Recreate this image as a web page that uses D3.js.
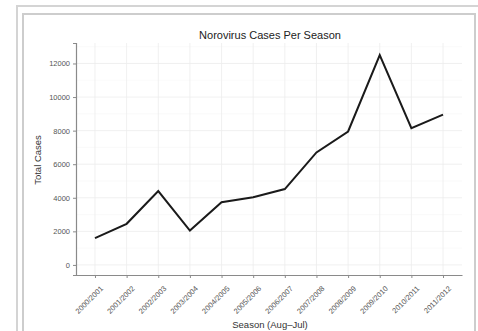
<!DOCTYPE html>
<html>
<head>
<meta charset="utf-8">
<script src="https://cdn.jsdelivr.net/npm/d3@7/dist/d3.min.js"></script>
<style>
html,body{margin:0;padding:0;background:#fff;}
svg{display:block;font-family:"Liberation Sans",Arial,sans-serif;}
</style>
</head>
<body>
<svg id="chart" width="478" height="331"></svg>
<script>
const seasons = ["2000/2001","2001/2002","2002/2003","2003/2004","2004/2005","2005/2006","2006/2007","2007/2008","2008/2009","2009/2010","2010/2011","2011/2012"];
const cases = [1600, 2450, 4400, 2050, 3730, 4030, 4520, 6700, 7950, 12500, 8150, 8950];
const yTicks = [0, 2000, 4000, 6000, 8000, 10000, 12000];
const title = "Norovirus Cases Per Season";
const xTitle = "Season (Aug\u2013Jul)";
const yTitle = "Total Cases";

(function(){
const svg = d3.select("#chart");

// frames
svg.append("rect").attr("x",17).attr("y",6).attr("width",520).attr("height",400)
  .attr("fill","none").attr("stroke","#d4d4d4").attr("stroke-width",2);
svg.append("rect").attr("x",23).attr("y",14).attr("width",452).attr("height",400)
  .attr("fill","none").attr("stroke","#cdcdcd").attr("stroke-width",2);

const pl = 76, pr = 462, pt = 43, pb = 275;
const x = d3.scalePoint().domain(seasons).range([pl, pr]).padding(0.6);
const y = d3.scaleLinear().domain([-600, 13220]).range([pb, pt]);

// grid
const g = svg.append("g");
const minorY = [1000,3000,5000,7000,9000,11000,13000];
g.selectAll(".hmin").data(minorY).enter().append("line")
  .attr("x1",pl).attr("x2",pr).attr("y1",d=>y(d)).attr("y2",d=>y(d))
  .attr("stroke","#f6f6f6").attr("stroke-width",0.6);
g.selectAll(".hmaj").data(yTicks).enter().append("line")
  .attr("x1",pl).attr("x2",pr).attr("y1",d=>y(d)).attr("y2",d=>y(d))
  .attr("stroke","#ececec").attr("stroke-width",0.8);
g.selectAll(".vmaj").data(seasons).enter().append("line")
  .attr("x1",d=>x(d)).attr("x2",d=>x(d)).attr("y1",pt).attr("y2",pb)
  .attr("stroke","#ececec").attr("stroke-width",0.8);

// line
svg.append("path").datum(seasons.map((s,i)=>[s,cases[i]]))
  .attr("fill","none").attr("stroke","#1a1a1a").attr("stroke-width",2)
  .attr("stroke-linejoin","miter")
  .attr("d", d3.line().x(d=>x(d[0])).y(d=>y(d[1])));

// axes
const yAxis = svg.append("g").attr("transform",`translate(${pl},0)`)
  .call(d3.axisLeft(y).tickValues(yTicks).tickSize(3).tickPadding(3).tickFormat(d3.format("d")));
yAxis.select(".domain").attr("stroke","#8a8a8a").attr("stroke-width",1.2);
yAxis.selectAll(".tick line").attr("stroke","#8a8a8a");
yAxis.selectAll(".tick text").attr("fill","#555").attr("font-size","7.5px").attr("font-family","Liberation Sans, Arial, sans-serif");

const xAxis = svg.append("g").attr("transform",`translate(0,${pb})`)
  .call(d3.axisBottom(x).tickSize(3).tickSizeOuter(0));
xAxis.select(".domain").attr("stroke","#8a8a8a").attr("stroke-width",1.2);
xAxis.selectAll(".tick line").attr("stroke","#8a8a8a");
xAxis.selectAll(".tick text").attr("fill","#555").attr("font-size","7.5px")
  .attr("font-family","Liberation Sans, Arial, sans-serif")
  .attr("text-anchor","end").attr("dy","0.35em")
  .attr("transform","translate(2,8) rotate(-45)");

// titles
svg.append("text").attr("x",270).attr("y",39).attr("text-anchor","middle")
  .attr("font-size","11px").attr("fill","#222").text(title);
svg.append("text").attr("x",270).attr("y",328).attr("text-anchor","middle")
  .attr("font-size","9.5px").attr("fill","#333").text(xTitle);
svg.append("text").attr("transform","translate(41,160) rotate(-90)").attr("text-anchor","middle")
  .attr("font-size","9.5px").attr("fill","#333").text(yTitle);
})();
</script>
</body>
</html>
